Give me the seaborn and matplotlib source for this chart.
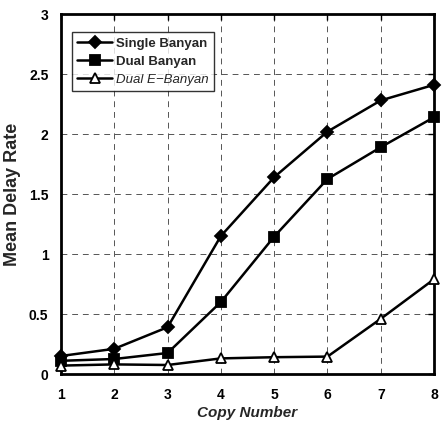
import matplotlib
matplotlib.use("Agg")
import matplotlib.pyplot as plt
import seaborn as sns
import pandas as pd

copy_number = [1, 2, 3, 4, 5, 6, 7, 8]
single_banyan = [0.15, 0.21, 0.39, 1.15, 1.64, 2.02, 2.28, 2.41]
dual_banyan = [0.11, 0.125, 0.175, 0.60, 1.145, 1.625, 1.89, 2.14]
dual_e_banyan = [0.07, 0.08, 0.075, 0.13, 0.14, 0.145, 0.46, 0.79]
series_names = ["Single Banyan", "Dual Banyan", "Dual E\u2212Banyan"]
x_ticks = [1, 2, 3, 4, 5, 6, 7, 8]
y_ticks = [0, 0.5, 1, 1.5, 2, 2.5, 3]
y_tick_labels = ["0", "0.5", "1", "1.5", "2", "2.5", "3"]

sns.set_theme(style="white")
plt.rcParams['font.family'] = ['Liberation Sans', 'DejaVu Sans']

fig = plt.figure(figsize=(4.42, 4.25), dpi=100)
ax = fig.add_axes([0.138, 0.12, 0.844, 0.847])

styles = [
    dict(marker="D", markersize=6, markerfacecolor="black"),
    dict(marker="s", markersize=7, markerfacecolor="black"),
    dict(marker="^", markersize=7, markerfacecolor="white"),
]
for name, vals, st in zip(series_names, [single_banyan, dual_banyan, dual_e_banyan], styles):
    df = pd.DataFrame({"x": copy_number, "y": vals})
    sns.lineplot(data=df, x="x", y="y", ax=ax, color="black", linewidth=1.8,
                 markeredgecolor="black", markeredgewidth=1.3, label=name,
                 clip_on=False, zorder=3, **st)

ax.set_xlim(1, 8)
ax.set_ylim(0, 3)
ax.set_xticks(x_ticks)
ax.set_yticks(y_ticks)
ax.set_yticklabels(y_tick_labels)
ax.grid(True, color="#555555", linestyle=(0, (6, 5)), linewidth=0.7)
for sp in ax.spines.values():
    sp.set_color("black")
    sp.set_linewidth(2)
ax.tick_params(direction="in", length=4, width=1, top=True, right=True,
               labelsize=10, colors="black")
ax.tick_params(axis="x", pad=10)
ax.tick_params(axis="y", pad=9)
for lab in ax.get_xticklabels() + ax.get_yticklabels():
    lab.set_fontweight("bold")
ax.set_xlabel("Copy Number", fontsize=11, fontweight="bold", fontstyle="italic", labelpad=3)
ax.set_ylabel("Mean Delay Rate", fontsize=13, fontweight="bold", labelpad=6)

leg = ax.legend(loc="upper left", bbox_to_anchor=(0.03, 0.95), frameon=True,
                fancybox=False, edgecolor="black", fontsize=9.5,
                handlelength=2.6, handletextpad=0.3, borderpad=0.4,
                labelspacing=0.45, borderaxespad=0)
leg.get_frame().set_linewidth(1.0)
texts = leg.get_texts()
texts[0].set_fontweight("bold")
texts[1].set_fontweight("bold")
texts[2].set_fontstyle("italic")

fig.savefig("out.png", dpi=100)
